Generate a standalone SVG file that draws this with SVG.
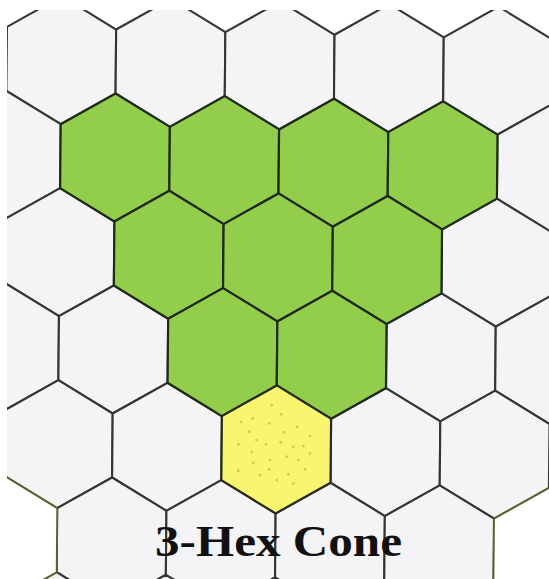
<svg xmlns="http://www.w3.org/2000/svg" xmlns:xlink="http://www.w3.org/1999/xlink" width="549" height="579" viewBox="0 0 549 579">
  <defs>
    <polygon id="hex" points="0,-64 54.6,-32 54.6,32 0,64 -54.6,32 -54.6,-32"/>
    <clipPath id="frame"><rect x="7" y="10" width="542" height="569"/></clipPath>
  </defs>
  <style>
    .cell { fill: #f4f4f7; stroke: #353535; stroke-width: 2.1; }
    .blank { fill: #ffffff; stroke: #56662a; stroke-width: 1.8; }
    .area { fill: #92ce4c; stroke: #1f2a18; stroke-width: 2.2; }
    .origin { fill: #f8f66e; stroke: #2a2a18; stroke-width: 2.2; }
    .dot { fill: #d4cf48; }
    .title { font-family: "Liberation Serif", "Times New Roman", serif; font-weight: bold; font-size: 45px; fill: #111111; }
  </style>
  <rect x="0" y="0" width="549" height="579" fill="#ffffff"/>
  <g clip-path="url(#frame)">
    <g id="grid" transform="matrix(1 0.024 -0.009 1 115 157.5)">
      <g id="plain-cells">
        <use xlink:href="#hex" class="cell" x="-54.6" y="-96"/>
        <use xlink:href="#hex" class="cell" x="54.6" y="-96"/>
        <use xlink:href="#hex" class="cell" x="163.8" y="-96"/>
        <use xlink:href="#hex" class="cell" x="273" y="-96"/>
        <use xlink:href="#hex" class="cell" x="382.2" y="-96"/>
        <use xlink:href="#hex" class="cell" x="491.4" y="-96"/>
        <use xlink:href="#hex" class="cell" x="-109.2" y="0"/>
        <use xlink:href="#hex" class="cell" x="436.8" y="0"/>
        <use xlink:href="#hex" class="cell" x="-54.6" y="96"/>
        <use xlink:href="#hex" class="cell" x="382.2" y="96"/>
        <use xlink:href="#hex" class="cell" x="-109.2" y="192"/>
        <use xlink:href="#hex" class="cell" x="0" y="192"/>
        <use xlink:href="#hex" class="cell" x="327.6" y="192"/>
        <use xlink:href="#hex" class="cell" x="436.8" y="192"/>
        <use xlink:href="#hex" class="cell" x="-54.6" y="288"/>
        <use xlink:href="#hex" class="cell" x="54.6" y="288"/>
        <use xlink:href="#hex" class="cell" x="273" y="288"/>
        <use xlink:href="#hex" class="cell" x="382.2" y="288"/>
        <use xlink:href="#hex" class="cell" x="0" y="384"/>
        <use xlink:href="#hex" class="cell" x="109.2" y="384"/>
        <use xlink:href="#hex" class="cell" x="218.4" y="384"/>
        <use xlink:href="#hex" class="cell" x="327.6" y="384"/>
        <use xlink:href="#hex" class="cell" x="-54.6" y="480"/>
        <use xlink:href="#hex" class="cell" x="54.6" y="480"/>
        <use xlink:href="#hex" class="cell" x="163.8" y="480"/>
        <use xlink:href="#hex" class="cell" x="273" y="480"/>
        <use xlink:href="#hex" class="cell" x="382.2" y="480"/>
      </g>
      <g id="blank-cells">
        <use xlink:href="#hex" class="blank" x="-109.2" y="384"/>
        <use xlink:href="#hex" class="blank" x="436.8" y="384"/>
      </g>
      <g id="cone">
        <use id="cone-1" xlink:href="#hex" class="area" x="0" y="0"/>
        <use id="cone-2" xlink:href="#hex" class="area" x="109.2" y="0"/>
        <use id="cone-3" xlink:href="#hex" class="area" x="218.4" y="0"/>
        <use id="cone-4" xlink:href="#hex" class="area" x="327.6" y="0"/>
        <use id="cone-5" xlink:href="#hex" class="area" x="54.6" y="96"/>
        <use id="cone-6" xlink:href="#hex" class="area" x="163.8" y="96"/>
        <use id="cone-7" xlink:href="#hex" class="area" x="273" y="96"/>
        <use id="cone-8" xlink:href="#hex" class="area" x="109.2" y="192"/>
        <use id="cone-9" xlink:href="#hex" class="area" x="218.4" y="192"/>
      </g>
    </g>
    <g id="origin">
      <use xlink:href="#hex" class="origin" transform="matrix(1 0.024 -0.009 1 115 157.5) translate(163.8 288)"/>
      <g id="origin-dots">
        <circle class="dot" cx="271.7" cy="405" r="1.5"/>
        <circle class="dot" cx="281" cy="414.3" r="1.5"/>
        <circle class="dot" cx="241" cy="421.7" r="1.5"/>
        <circle class="dot" cx="252.7" cy="418.3" r="1.5"/>
        <circle class="dot" cx="269.3" cy="423.3" r="1.5"/>
        <circle class="dot" cx="297.3" cy="426.7" r="1.5"/>
        <circle class="dot" cx="249.3" cy="431.7" r="1.5"/>
        <circle class="dot" cx="284" cy="432.3" r="1.5"/>
        <circle class="dot" cx="310" cy="436" r="1.5"/>
        <circle class="dot" cx="256.7" cy="440" r="1.5"/>
        <circle class="dot" cx="238.3" cy="444.3" r="1.5"/>
        <circle class="dot" cx="266" cy="444.3" r="1.5"/>
        <circle class="dot" cx="280.7" cy="442.3" r="1.5"/>
        <circle class="dot" cx="293.3" cy="446.7" r="1.5"/>
        <circle class="dot" cx="303.3" cy="446" r="1.5"/>
        <circle class="dot" cx="251.7" cy="451.7" r="1.5"/>
        <circle class="dot" cx="310" cy="453.3" r="1.5"/>
        <circle class="dot" cx="286.7" cy="456.7" r="1.5"/>
        <circle class="dot" cx="270" cy="460" r="1.5"/>
        <circle class="dot" cx="253.3" cy="462.7" r="1.5"/>
        <circle class="dot" cx="298.3" cy="460" r="1.5"/>
        <circle class="dot" cx="238.3" cy="470.7" r="1.5"/>
        <circle class="dot" cx="260" cy="475" r="1.5"/>
        <circle class="dot" cx="269.3" cy="469.3" r="1.5"/>
        <circle class="dot" cx="288.3" cy="474.3" r="1.5"/>
        <circle class="dot" cx="305" cy="469.3" r="1.5"/>
        <circle class="dot" cx="276.7" cy="480" r="1.5"/>
        <circle class="dot" cx="293.3" cy="483.3" r="1.5"/>
      </g>
    </g>
  </g>
  <text class="title" x="155" y="556" textLength="247" lengthAdjust="spacingAndGlyphs">3-Hex Cone</text>
</svg>
